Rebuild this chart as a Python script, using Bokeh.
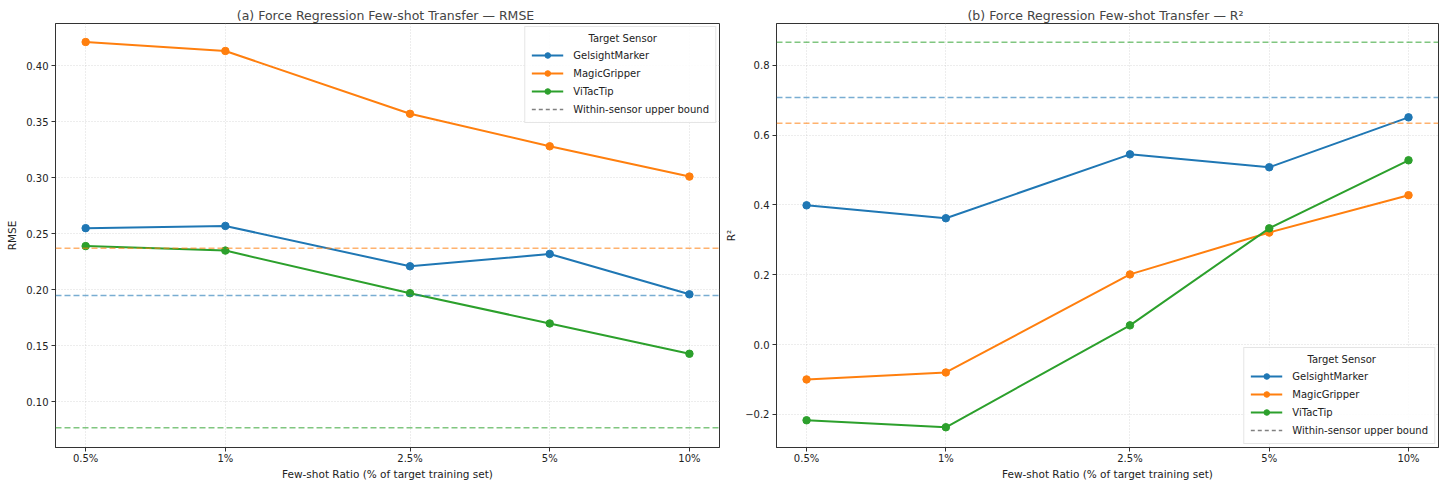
from bokeh.plotting import figure
from bokeh.layouts import row
from bokeh.models import (Range1d, FixedTicker, CustomJSTickFormatter, Span,
                          Legend, LegendItem)
from bokeh.embed import file_html
from bokeh.resources import INLINE

# ---------------- data ----------------
ratios = [0.5, 1, 2.5, 5, 10]
sensors = ["GelsightMarker", "MagicGripper", "ViTacTip"]
colors = ["#1f77b4", "#ff7f0e", "#2ca02c"]

rmse_gelsight = [0.255, 0.257, 0.221, 0.232, 0.196]
rmse_magic = [0.421, 0.413, 0.357, 0.328, 0.301]
rmse_vitac = [0.239, 0.235, 0.197, 0.170, 0.143]
rmse_bounds = [0.195, 0.237, 0.077]

r2_gelsight = [0.399, 0.362, 0.545, 0.508, 0.651]
r2_magic = [-0.100, -0.080, 0.201, 0.321, 0.428]
r2_vitac = [-0.217, -0.237, 0.055, 0.333, 0.528]
r2_bounds = [0.708, 0.634, 0.866]

rmse_ticks = [0.10, 0.15, 0.20, 0.25, 0.30, 0.35, 0.40]
r2_ticks = [-0.2, 0.0, 0.2, 0.4, 0.6, 0.8]

FONT = "DejaVu Sans"


def panel(title, ylabel, series, bounds, yrange, yticks, ycode, loc,
          frame_w, mb_left, mb_right):
    p = figure(frame_width=frame_w, frame_height=424, x_axis_type="log",
               x_range=Range1d(0.4305, 11.61), y_range=Range1d(*yrange),
               output_backend="svg", toolbar_location=None,
               min_border_left=mb_left, min_border_right=mb_right,
               min_border_top=23, min_border_bottom=30)
    p.title.text = title
    p.title.align = "center"
    p.title.text_font = FONT
    p.title.text_font_size = "12.5px"
    p.title.text_font_style = "normal"
    p.title.standoff = 2
    p.title.offset = 0

    p.outline_line_color = "#333333"
    p.outline_line_width = 1
    p.background_fill_color = "white"

    for ax in (p.xaxis[0], p.yaxis[0]):
        ax.axis_line_color = "#333333"
        ax.major_tick_in = 0
        ax.major_tick_out = 4
        ax.minor_tick_line_color = None
        ax.major_tick_line_color = "#333333"
        ax.major_label_text_font = FONT
        ax.major_label_text_font_size = "10px"
        ax.major_label_text_color = "#222222"
        ax.axis_label_text_font = FONT
        ax.axis_label_text_font_size = "10.5px"
        ax.axis_label_text_font_style = "normal"
        ax.axis_label_text_color = "#222222"

    p.xaxis.ticker = FixedTicker(ticks=ratios)
    p.xaxis.formatter = CustomJSTickFormatter(code="return tick + '%';")
    p.xaxis.axis_label = "Few-shot Ratio (% of target training set)"
    p.xaxis.axis_label_standoff = 1
    p.xaxis.major_label_standoff = 1

    p.yaxis.ticker = FixedTicker(ticks=yticks)
    p.yaxis.formatter = CustomJSTickFormatter(code=ycode)
    p.yaxis.axis_label = ylabel
    p.yaxis.axis_label_standoff = 5
    p.yaxis.major_label_standoff = 3

    for g in (p.xgrid[0], p.ygrid[0]):
        g.grid_line_color = "#b0b0b0"
        g.grid_line_alpha = 0.6
        g.grid_line_dash = "1 2"
        g.grid_line_width = 0.8
    p.xgrid.ticker = FixedTicker(ticks=ratios)
    p.ygrid.ticker = FixedTicker(ticks=yticks)

    for b, c in zip(bounds, colors):
        p.add_layout(Span(location=b, dimension="width", line_color=c,
                          line_alpha=0.6, line_width=1.5, line_dash="6 3"))

    items = []
    for name, vals, c in zip(sensors, series, colors):
        lr = p.line(ratios, vals, line_color=c, line_width=2)
        sr = p.scatter(ratios, vals, size=7.5, fill_color=c, line_color=c)
        items.append(LegendItem(label=name, renderers=[lr, sr]))
    # legend-only entry: placed far outside the visible range
    dummy = p.line([0.01, 0.02], [-100, -100], line_color="gray",
                   line_width=1.5, line_dash="4 3")
    items.append(LegendItem(label="Within-sensor upper bound",
                            renderers=[dummy]))

    leg = Legend(items=items, location=loc,
                 title="\u00a0" * 18 + "Target Sensor",
                 margin=3, padding=6, spacing=4,
                 label_height=14, glyph_height=14, glyph_width=32,
                 label_standoff=10,
                 label_text_font=FONT, label_text_font_size="10px",
                 label_text_color="#222222",
                 title_text_font=FONT, title_text_font_size="10px",
                 title_text_font_style="normal", title_text_color="#222222",
                 title_standoff=4,
                 border_line_color="#cccccc", border_line_width=1,
                 background_fill_alpha=0.85)
    p.add_layout(leg)
    return p


code_rmse = "return tick.toFixed(2);"
code_r2 = ("if (tick < -1e-9) { return '\\u2212' + Math.abs(tick).toFixed(1); }"
           " return Math.abs(tick) < 1e-9 ? '0.0' : tick.toFixed(1);")

p1 = panel("(a)  Force Regression Few-shot Transfer \u2014 RMSE", "RMSE",
           [rmse_gelsight, rmse_magic, rmse_vitac], rmse_bounds,
           (0.0594, 0.4375), rmse_ticks, code_rmse, "top_right",
           664, 55, 3)
p2 = panel("(b)  Force Regression Few-shot Transfer \u2014 R\u00b2", "R\u00b2",
           [r2_gelsight, r2_magic, r2_vitac], r2_bounds,
           (-0.295, 0.920), r2_ticks, code_r2, "bottom_right",
           662, 52, 3)

layout = row(p1, p2)
open("out.html", "w").write(file_html(layout, INLINE))
